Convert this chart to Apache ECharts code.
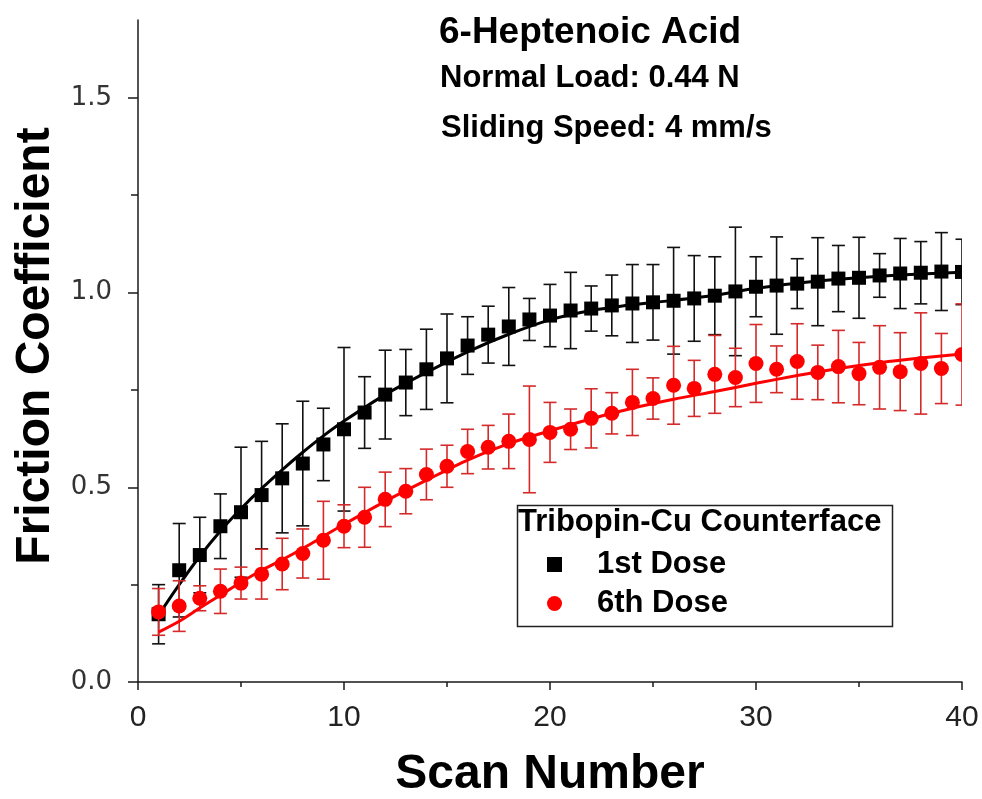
<!DOCTYPE html>
<html>
<head>
<meta charset="utf-8">
<script src="https://cdn.jsdelivr.net/npm/echarts@6/dist/echarts.min.js"></script>
<style>
  html, body { margin: 0; padding: 0; background: #fff; }
  #chart { width: 982px; height: 799px; }
</style>
</head>
<body>
<div id="chart"></div>
<script>
// Scan numbers and measured friction coefficients (mean ± standard deviation)
const scans = [1, 2, 3, 4, 5, 6, 7, 8, 9, 10, 11, 12, 13, 14, 15, 16, 17, 18, 19, 20,
               21, 22, 23, 24, 25, 26, 27, 28, 29, 30, 31, 32, 33, 34, 35, 36, 37, 38, 39, 40];

const dose1 = [0.174, 0.287, 0.326, 0.400, 0.436, 0.480, 0.523, 0.561, 0.610, 0.649,
               0.692, 0.738, 0.769, 0.803, 0.831, 0.864, 0.892, 0.913, 0.931, 0.941,
               0.954, 0.959, 0.967, 0.972, 0.975, 0.979, 0.985, 0.992, 1.003, 1.015,
               1.018, 1.023, 1.028, 1.036, 1.038, 1.044, 1.049, 1.051, 1.054, 1.053];
const dose1Err = [0.076, 0.120, 0.097, 0.083, 0.167, 0.138, 0.140, 0.160, 0.093, 0.210,
                  0.092, 0.114, 0.085, 0.103, 0.114, 0.074, 0.073, 0.100, 0.054, 0.080,
                  0.098, 0.058, 0.078, 0.100, 0.097, 0.137, 0.110, 0.100, 0.165, 0.077,
                  0.125, 0.064, 0.113, 0.085, 0.104, 0.056, 0.090, 0.080, 0.100, 0.084];

const dose6 = [0.180, 0.195, 0.215, 0.233, 0.254, 0.277, 0.303, 0.330, 0.364, 0.400,
               0.423, 0.469, 0.490, 0.533, 0.554, 0.592, 0.603, 0.618, 0.623, 0.641,
               0.649, 0.677, 0.690, 0.718, 0.728, 0.762, 0.754, 0.790, 0.782, 0.818,
               0.803, 0.823, 0.795, 0.810, 0.792, 0.808, 0.797, 0.818, 0.805, 0.841];
const dose6Err = [0.060, 0.065, 0.032, 0.057, 0.041, 0.064, 0.066, 0.063, 0.100, 0.055,
                  0.077, 0.070, 0.058, 0.065, 0.054, 0.057, 0.056, 0.070, 0.137, 0.077,
                  0.052, 0.076, 0.053, 0.085, 0.053, 0.100, 0.072, 0.100, 0.075, 0.100,
                  0.060, 0.097, 0.070, 0.093, 0.080, 0.107, 0.100, 0.130, 0.090, 0.130];

// Fitted curves through each dose
const fitScans = [1, 2, 3, 4, 5, 6, 7, 8, 9, 10, 12, 14, 16, 18, 20, 22, 24, 26, 28, 30, 32, 34, 36, 38, 40];
const fit1 = [0.172, 0.250, 0.323, 0.388, 0.445, 0.497, 0.545, 0.590, 0.632, 0.670, 0.738, 0.795, 0.848,
              0.893, 0.930, 0.954, 0.969, 0.980, 0.993, 1.011, 1.024, 1.034, 1.042, 1.048, 1.052];
const fit6 = [0.128, 0.156, 0.190, 0.223, 0.256, 0.287, 0.314, 0.343, 0.374, 0.405, 0.464, 0.518, 0.570,
              0.612, 0.645, 0.676, 0.703, 0.726, 0.746, 0.767, 0.787, 0.805, 0.820, 0.832, 0.842];

// Axis ticks
const xTicks = [0, 10, 20, 30, 40];
const yTicks = [0, 0.5, 1.0, 1.5];
const yMinorTicks = [0.25, 0.75, 1.25];

const FONT = '"Liberation Sans", Arial, sans-serif';
const AXIS_COLOR = '#1a1a1a';

function zip3(xs, ys, es) {
  return xs.map((x, i) => [x, ys[i], es[i]]);
}
function zip2(xs, ys) {
  return xs.map((x, i) => [x, ys[i]]);
}

// Marker with a vertical error bar and caps, positioned through the grid's scales
function makeRenderer(markerShape, markerColor, barColor) {
  return function (params, api) {
    const x = api.value(0), y = api.value(1), e = api.value(2);
    const c = api.coord([x, y]);
    const hi = api.coord([x, y + e]);
    const lo = api.coord([x, y - e]);
    const cap = 6.5;
    const bar = { stroke: barColor, lineWidth: 1.6, fill: null };
    const children = [
      { type: 'line', shape: { x1: c[0], y1: hi[1], x2: c[0], y2: lo[1] }, style: bar },
      { type: 'line', shape: { x1: c[0] - cap, y1: hi[1], x2: c[0] + cap, y2: hi[1] }, style: bar },
      { type: 'line', shape: { x1: c[0] - cap, y1: lo[1], x2: c[0] + cap, y2: lo[1] }, style: bar }
    ];
    if (markerShape === 'rect') {
      children.push({ type: 'rect', shape: { x: c[0] - 7, y: c[1] - 7, width: 14, height: 14 },
                      style: { fill: markerColor } });
    } else {
      children.push({ type: 'circle', shape: { cx: c[0], cy: c[1], r: 7.5 },
                      style: { fill: markerColor } });
    }
    return { type: 'group', children: children };
  };
}

const chart = echarts.init(document.getElementById('chart'), null, { renderer: 'canvas' });

chart.setOption({
  backgroundColor: '#ffffff',
  animation: false,
  grid: { left: 138, right: 20, top: 20, bottom: 117, containLabel: false, outerBoundsMode: 'none' },
  xAxis: {
    type: 'value',
    min: 0, max: 40, interval: 10,
    name: 'Scan Number',
    nameLocation: 'middle',
    nameGap: 69,
    nameTextStyle: { fontFamily: FONT, fontWeight: 'bold', fontSize: 48, color: '#000' },
    axisLine: { show: true, onZero: false, lineStyle: { color: AXIS_COLOR, width: 1.5 } },
    axisTick: { show: true, inside: false, length: 8, customValues: xTicks,
                lineStyle: { color: AXIS_COLOR, width: 1.5 } },
    minorTick: { show: true, splitNumber: 2, length: 5, lineStyle: { color: AXIS_COLOR, width: 1.5 } },
    axisLabel: { customValues: xTicks, margin: 21, fontFamily: '"Liberation Sans Narrow", "Liberation Sans", sans-serif',
                 fontSize: 30, color: '#222' },
    splitLine: { show: false },
    minorSplitLine: { show: false }
  },
  yAxis: [
    {
      type: 'value',
      min: 0, max: 1.7,
      name: 'Friction Coefficient',
      nameLocation: 'middle',
      nameGap: 68,
      nameRotate: 90,
      nameTextStyle: { fontFamily: FONT, fontWeight: 'bold', fontSize: 48, color: '#000',
                       padding: [0, 0, 0, 10] },
      axisLine: { show: true, onZero: false, lineStyle: { color: AXIS_COLOR, width: 1.5 } },
      axisTick: { show: true, inside: false, length: 10, customValues: yTicks,
                  lineStyle: { color: AXIS_COLOR, width: 1.5 } },
      axisLabel: { customValues: yTicks, margin: 26, fontFamily: '"DejaVu Sans", sans-serif',
                   fontSize: 26, color: '#333',
                   formatter: v => v.toFixed(1) },
      splitLine: { show: false }
    },
    {
      type: 'value',
      min: 0, max: 1.7,
      position: 'left',
      axisLine: { show: false },
      axisTick: { show: true, inside: false, length: 7, customValues: yMinorTicks,
                  lineStyle: { color: AXIS_COLOR, width: 1.5 } },
      axisLabel: { show: false },
      splitLine: { show: false }
    }
  ],
  legend: {
    orient: 'vertical',
    left: 547, top: 545,
    padding: 0,
    itemGap: 0,
    itemWidth: 15, itemHeight: 15,
    selectedMode: false,
    data: [
      { name: '1st Dose', icon: 'rect' },
      { name: '6th Dose', icon: 'circle' }
    ],
    textStyle: { fontFamily: FONT, fontWeight: 'bold', fontSize: 31, color: '#000',
                 lineHeight: 39, padding: [0, 0, 0, 30] }
  },
  graphic: [
    { type: 'text', left: 439, top: 14,
      style: { text: '6-Heptenoic Acid', font: 'bold 37px ' + FONT, fill: '#000' } },
    { type: 'text', left: 440, top: 63,
      style: { text: 'Normal Load: 0.44 N', font: 'bold 31px ' + FONT, fill: '#000' } },
    { type: 'text', left: 441, top: 113,
      style: { text: 'Sliding Speed: 4 mm/s', font: 'bold 31px ' + FONT, fill: '#000' } },
    { type: 'rect', left: 515, top: 503, z: 10,
      shape: { width: 375, height: 121 },
      style: { fill: null, stroke: '#222', lineWidth: 1.5 } },
    { type: 'text', left: 518, top: 507, z: 10,
      style: { text: 'Tribopin-Cu Counterface', font: 'bold 31px ' + FONT, fill: '#000' } }
  ],
  series: [
    {
      name: '1st Dose',
      type: 'custom',
      clip: true,
      itemStyle: { color: '#000000' },
      data: zip3(scans, dose1, dose1Err),
      renderItem: makeRenderer('rect', '#000000', '#111111'),
      z: 2
    },
    {
      name: '1st Dose fit',
      type: 'line',
      data: zip2(fitScans, fit1),
      smooth: 0.3,
      showSymbol: false,
      symbol: 'none',
      clip: true,
      lineStyle: { color: '#000000', width: 3 },
      z: 3
    },
    {
      name: '6th Dose',
      type: 'custom',
      clip: true,
      itemStyle: { color: '#ff0000' },
      data: zip3(scans, dose6, dose6Err),
      renderItem: makeRenderer('circle', '#ff0000', '#d42a2a'),
      z: 4
    },
    {
      name: '6th Dose fit',
      type: 'line',
      data: zip2(fitScans, fit6),
      smooth: 0.3,
      showSymbol: false,
      symbol: 'none',
      clip: true,
      lineStyle: { color: '#ff0000', width: 3 },
      z: 5
    }
  ]
});
</script>
</body>
</html>
